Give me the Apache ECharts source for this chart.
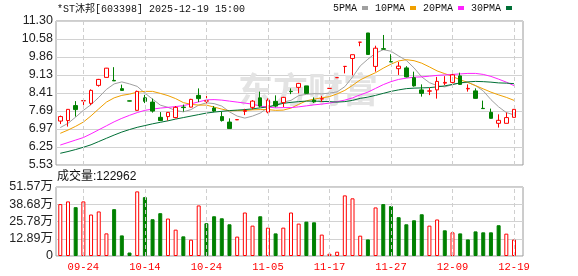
<!DOCTYPE html>
<html><head><meta charset="utf-8">
<script src="https://cdn.jsdelivr.net/npm/echarts@6/dist/echarts.min.js"></script>
<style>html,body{margin:0;padding:0;background:#fff}#c{width:578px;height:276px}</style>
</head><body><div id="c"></div>
<script>
const titleText = '*ST沐邦[603398] 2025-12-19 15:00';
const volTitle = '成交量:122962';
const dates = ['09-19','09-22','09-23','09-24','09-25','09-26','09-29','09-30','10-09','10-10',
  '10-13','10-14','10-15','10-16','10-17','10-20','10-21','10-22','10-23','10-24',
  '10-27','10-28','10-29','10-30','10-31','11-03','11-04','11-05','11-06','11-07',
  '11-10','11-11','11-12','11-13','11-14','11-17','11-18','11-19','11-20','11-21',
  '11-24','11-25','11-26','11-27','11-28','12-01','12-02','12-03','12-04','12-05',
  '12-08','12-09','12-10','12-11','12-12','12-15','12-16','12-17','12-18','12-19'];
const opens = [7.29,7.31,7.91,8.10,8.00,8.72,9.04,8.92,8.59,8.10,
  7.72,8.22,8.05,7.44,7.47,7.43,7.85,7.85,8.32,8.09,
  7.81,7.47,7.25,7.34,7.68,7.84,8.22,7.65,8.08,8.03,
  8.48,8.64,8.70,8.13,8.17,8.60,9.03,9.48,9.80,10.45,
  10.82,9.48,10.19,9.67,9.39,9.42,9.03,8.54,8.49,8.54,
  8.81,8.84,9.10,8.58,8.50,7.80,7.64,7.20,7.20,7.44];
const closes = [7.47,7.76,7.75,8.11,8.52,8.96,9.41,8.90,8.52,8.09,
  8.48,8.08,7.69,7.31,7.64,7.84,7.83,8.16,8.19,8.10,
  7.69,7.31,6.99,7.35,7.71,8.09,7.89,8.13,7.89,8.24,
  8.47,8.80,8.40,8.06,8.19,8.60,9.03,9.48,9.95,10.45,
  9.96,10.21,10.17,9.66,9.49,9.06,8.70,8.40,8.50,8.88,
  8.84,9.14,8.76,8.60,8.20,7.79,7.40,7.32,7.43,7.76];
const lows = [7.17,7.07,7.47,7.89,7.93,8.67,9.04,8.90,8.51,8.08,
  7.71,8.01,7.63,7.29,7.31,7.40,7.67,7.84,8.05,8.00,
  7.65,7.27,6.99,7.33,7.53,7.76,7.84,7.60,7.84,7.85,
  8.37,8.40,8.38,8.02,8.06,8.60,9.03,9.20,9.12,10.29,
  9.96,9.27,10.17,9.66,9.14,9.04,8.67,8.27,8.33,8.19,
  8.73,8.80,8.74,8.47,8.19,7.79,7.39,7.03,7.20,7.44];
const highs = [7.51,7.77,8.09,8.11,8.56,8.98,9.42,9.45,8.75,8.11,
  8.51,8.34,8.19,7.65,7.65,7.89,7.95,8.18,8.60,8.30,
  7.89,7.67,7.40,7.36,7.78,8.13,8.47,8.20,8.32,8.26,
  8.60,8.82,8.70,8.24,8.30,8.60,9.03,9.48,9.95,10.45,
  10.82,10.31,10.74,9.97,9.66,9.49,9.27,8.76,8.62,9.06,
  9.09,9.30,9.23,8.76,8.60,8.11,7.79,7.56,7.63,7.77];
const volumes = [38.8,40.8,36.5,40.8,31.0,33.3,16.9,35.0,15.4,2.6,
  48.3,44.0,27.5,32.0,28.0,19.7,14.7,12.2,37.8,24.5,
  29.7,28.2,23.7,14.5,32.5,22.7,29.7,21.2,16.9,21.2,
  32.5,24.2,25.7,25.2,16.0,1.7,3.2,45.3,43.1,15.2,
  12.4,36.3,38.8,37.3,29.0,23.7,26.7,31.2,22.7,27.3,
  19.2,17.7,16.9,12.4,18.4,17.7,17.7,23.0,16.7,12.3];
const ma5 = [7.03,7.20,7.45,7.72,7.95,8.24,8.56,8.78,8.86,8.78,
  8.68,8.41,8.17,7.93,7.84,7.71,7.66,7.75,7.93,8.02,
  7.99,7.89,7.66,7.49,7.41,7.49,7.61,7.83,7.94,8.05,
  8.12,8.31,8.36,8.39,8.38,8.41,8.46,8.67,9.05,9.50,
  9.77,10.01,10.15,10.09,9.90,9.72,9.42,9.06,8.83,8.71,
  8.66,8.75,8.82,8.84,8.71,8.50,8.15,7.86,7.63,7.54];
const ma10 = [6.80,6.93,7.08,7.25,7.50,7.78,8.05,8.22,8.32,8.37,
  8.45,8.48,8.48,8.40,8.31,8.19,8.03,7.96,7.93,7.93,
  7.85,7.77,7.70,7.71,7.71,7.74,7.75,7.75,7.72,7.73,
  7.81,7.96,8.10,8.17,8.22,8.27,8.38,8.52,8.72,8.94,
  9.09,9.23,9.41,9.57,9.70,9.75,9.71,9.61,9.46,9.30,
  9.19,9.08,8.94,8.84,8.71,8.58,8.45,8.34,8.24,8.12];
const ma20 = [6.33,6.43,6.53,6.63,6.78,6.94,7.10,7.26,7.40,7.52,
  7.63,7.72,7.77,7.81,7.84,7.87,7.91,7.98,8.06,8.14,
  8.15,8.13,8.09,8.05,8.01,7.97,7.89,7.85,7.82,7.83,
  7.83,7.86,7.90,7.94,7.97,8.01,8.07,8.13,8.22,8.34,
  8.45,8.60,8.75,8.87,8.96,9.01,9.05,9.06,9.09,9.12,
  9.14,9.16,9.18,9.20,9.20,9.16,9.08,8.97,8.85,8.71];
const ma30 = [6.00,6.07,6.15,6.24,6.34,6.47,6.60,6.73,6.85,6.95,
  7.04,7.11,7.18,7.24,7.30,7.37,7.43,7.49,7.55,7.61,
  7.65,7.68,7.71,7.73,7.75,7.78,7.82,7.86,7.93,8.00,
  8.04,8.07,8.09,8.09,8.08,8.07,8.05,8.07,8.12,8.20,
  8.25,8.32,8.40,8.48,8.54,8.59,8.61,8.62,8.63,8.66,
  8.70,8.76,8.82,8.86,8.88,8.87,8.85,8.82,8.81,8.79];
const priceTicks = ['5.53','6.25','6.97','7.69','8.41','9.13','9.86','10.58','11.30'];
const volTicks = ['0','12.89万','25.78万','38.68万','51.57万'];
const labeledDates = ['09-24','10-14','10-24','11-05','11-17','11-27','12-09','12-19'];
const maNames = ['5PMA','10PMA','20PMA','30PMA'];
const priceMin = 5.53, priceMax = 11.30, volMax = 51.57;

const RED = '#ff0000', GREEN = '#008000';
const maColors = ['#a0a0a0','#f0a000','#ff22ff','#006f36'];
const mono = '"Liberation Mono","Noto Sans CJK SC",monospace';
const sans = '"Liberation Sans","Noto Sans CJK SC",sans-serif';

const chart = echarts.init(document.getElementById('c'), null, {renderer:'canvas'});
const candleData = dates.map((d,i)=>[opens[i],closes[i],lows[i],highs[i]]);
const volData = volumes.map((v,i)=>{
  const up = i === 0 ? true : closes[i] >= closes[i-1];
  return {value:v, itemStyle: up ? {color:'#fff', borderColor:RED, borderWidth:1} : {color:GREEN, borderColor:GREEN, borderWidth:1}};
});
const vLines = {
  silent:true, symbol:['none','none'], label:{show:false},
  lineStyle:{type:[4,3], color:'#cfcfcf', width:1},
  emphasis:{disabled:true},
  data: labeledDates.map(d=>({xAxis:d}))
};
const hiddenCat = (gi, showLabel) => ({
  gridIndex: gi, type:'category', data: dates, boundaryGap:true,
  axisLine:{show:false}, axisTick:{show:false}, splitLine:{show:false},
  axisLabel: showLabel ? {show:true, color:RED, fontFamily:mono, fontSize:10.5, margin:6,
    interval:(idx, val)=>labeledDates.indexOf(val) >= 0} : {show:false}
});
const frameY = (gi, maxI, labels) => ({
  gridIndex: gi, type:'value', min:0, max:maxI, interval:1,
  axisLine:{show:false}, axisTick:{show:false},
  axisLabel:{color:'#222', fontFamily:sans, fontSize:12.5, margin:3, formatter:v=>labels[v]},
  splitLine:{show:true, lineStyle:{color:'#d2d2d2', width:1}}
});

chart.setOption({
  animation:false,
  backgroundColor:'#fff',
  title:[
    {text:titleText, left:57, top:4, padding:0, textStyle:{fontSize:10, fontWeight:'normal', fontFamily:mono, color:'#111'}},
    {text:volTitle, left:57, top:171, padding:0, textStyle:{fontSize:12, fontWeight:'normal', fontFamily:sans, color:'#111'}}
  ],
  legend:{
    data:maNames, right:66, top:3, padding:0, align:'right', icon:'rect', itemWidth:6, itemHeight:4, itemGap:7,
    textStyle:{fontFamily:mono, fontSize:10, color:'#111'}
  },
  graphic:[
    {type:'text', left:238, top:72, z:1, silent:true,
     style:{text:'东方财富', font:'bold 35px "Noto Sans CJK SC"', fill:'#e3e3e3'}}
  ],
  grid:[
    {left:56, top:21, width:467, height:144, show:true, borderColor:'#9a9a9a', borderWidth:1, backgroundColor:'transparent'},
    {left:56.45, top:21, width:461.4, height:144},
    {left:56, top:187, width:467, height:69, show:true, borderColor:'#9a9a9a', borderWidth:1, backgroundColor:'transparent'},
    {left:56.45, top:187, width:461.4, height:69}
  ],
  xAxis:[
    {gridIndex:0, type:'value', min:0, max:1, show:false},
    hiddenCat(1,false),
    {gridIndex:2, type:'value', min:0, max:1, show:false},
    hiddenCat(3,true)
  ],
  yAxis:[
    frameY(0,8,priceTicks),
    {gridIndex:1, type:'value', min:priceMin, max:priceMax, show:false, splitLine:{show:false}},
    frameY(2,4,volTicks),
    {gridIndex:3, type:'value', min:0, max:volMax, show:false, splitLine:{show:false}}
  ],
  series:[
    {type:'candlestick', name:'K', xAxisIndex:1, yAxisIndex:1, data:candleData, barWidth:4, z:4,
     itemStyle:{color:'#fff', color0:GREEN, borderColor:RED, borderColor0:GREEN, borderWidth:1},
     markLine:vLines},
    ...[ma5,ma10,ma20,ma30].map((arr,k)=>({
      type:'line', name:maNames[k], xAxisIndex:1, yAxisIndex:1, data:arr, symbol:'none', z:3,
      lineStyle:{color:maColors[k], width:1}, itemStyle:{color:maColors[k]}
    })),
    {type:'bar', name:'VOL', xAxisIndex:3, yAxisIndex:3, data:volData, barWidth:4, markLine:vLines}
  ]
});
</script></body></html>
